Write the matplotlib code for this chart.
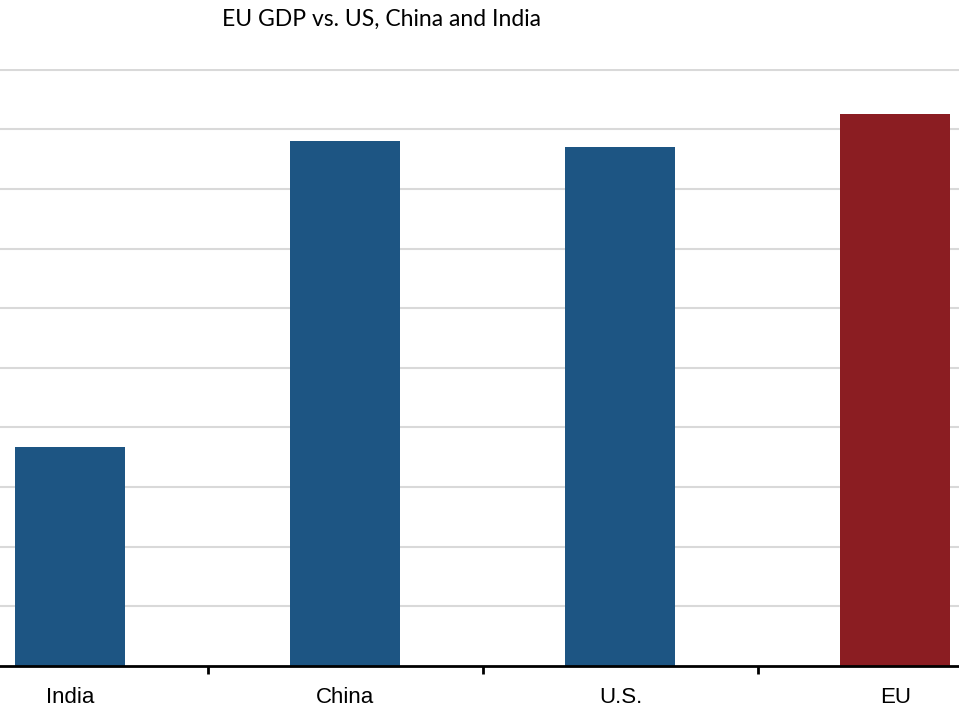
import matplotlib
matplotlib.use("Agg")
import matplotlib.pyplot as plt
import numpy as np

countries = ["India", "China", "U.S.", "EU"]
gdp = [7.35, 17.6, 17.4, 18.5]
bar_colors = ["#1d5583", "#1d5583", "#1d5583", "#8b1d22"]
title = "EU GDP vs. US, China and India"

fig = plt.figure(figsize=(9.59, 7.2), dpi=100)
ax = fig.add_axes([0, (720 - 666) / 720, 1, (666 - 69) / 720])

x = np.arange(len(countries))
ax.bar(x, gdp, width=0.4, color=bar_colors, zorder=3)

ax.set_xlim(-0.256, 3.231)
ax.set_ylim(0, 20.02)
ax.set_yticks(np.arange(2, 21, 2))
ax.yaxis.grid(True, color="#d9d9d9", linewidth=1.5, zorder=0)
ax.tick_params(axis="y", length=0, labelleft=False)

# boundary ticks between categories, labels at the centres
ax.set_xticks([0.5, 1.5, 2.5])
ax.set_xticklabels([])
ax.set_xticks(x, minor=True)
ax.set_xticklabels(countries, minor=True, fontsize=16, family="Liberation Sans")
ax.tick_params(axis="x", which="major", length=6, width=2, color="black")
ax.tick_params(axis="x", which="minor", length=0, pad=15)

for s in ["top", "left", "right"]:
    ax.spines[s].set_visible(False)
ax.spines["bottom"].set_linewidth(2)
ax.spines["bottom"].set_zorder(4)

fig.text(382 / 959, 1 - 19 / 720, title, ha="center", va="center",
         fontsize=16.5, family="Lato")

fig.savefig("out.png", dpi=100)
